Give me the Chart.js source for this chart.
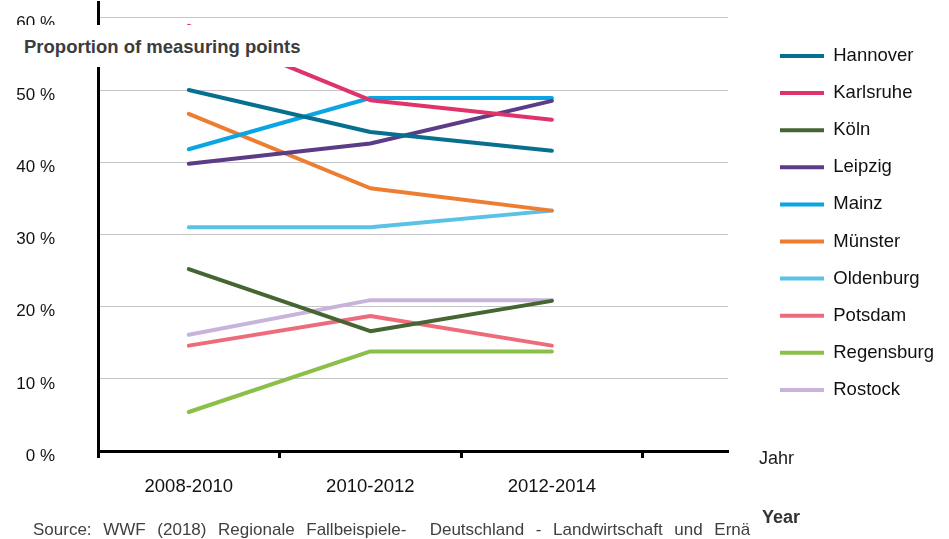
<!DOCTYPE html>
<html>
<head>
<meta charset="utf-8">
<script src="https://cdn.jsdelivr.net/npm/chart.js@4/dist/chart.umd.min.js"></script>
<style>
  html, body { margin: 0; padding: 0; background: #fff; }
  #wrap { position: relative; width: 949px; height: 539px; overflow: hidden; font-family: "Liberation Sans", Arial, sans-serif; }
  canvas { position: absolute; left: 0; top: 0; }
  .txt { position: absolute; white-space: pre; line-height: 1; }
  #ytitle { position: absolute; left: 0; top: 25px; width: 320px; height: 42px; background: #fff; }
  #ytitle span { position: absolute; left: 24px; top: 12.7px; font-weight: bold; font-size: 18.5px; line-height: 1; color: #3c3c3c; white-space: pre; }
</style>
</head>
<body>
<div id="wrap">
  <canvas id="c" width="949" height="539"></canvas>
  <div id="ytitle"><span>Proportion of measuring points</span></div>
  <div class="txt" style="left:759px; top:449px; font-size:18px; color:#1a1a1a;">Jahr</div>
  <div class="txt" style="left:762px; top:508px; font-size:18px; font-weight:bold; color:#333;">Year</div>
  <div class="txt" style="left:33px; top:521px; font-size:17px; color:#404040; word-spacing:6.9px;">Source: WWF (2018) Regionale Fallbeispiele-  Deutschland - Landwirtschaft und Ernä</div>
</div>
<script>
// ---- data ----
const categories = ['2008-2010', '2010-2012', '2012-2014'];
const cities = ['Hannover', 'Karlsruhe', 'Köln', 'Leipzig', 'Mainz', 'Münster', 'Oldenburg', 'Potsdam', 'Regensburg', 'Rostock'];
const hannover   = [50.0, 44.2, 41.6];
const karlsruhe  = [58.9, 48.6, 45.9];
const koeln      = [25.2, 16.6, 20.8];
const leipzig    = [39.8, 42.6, 48.5];
const mainz      = [41.8, 48.9, 48.9];
const muenster   = [46.7, 36.4, 33.3];
const oldenburg  = [31.0, 31.0, 33.3];
const potsdam    = [14.6, 18.7, 14.6];
const regensburg = [5.4, 13.8, 13.8];
const rostock    = [16.1, 20.9, 20.9];
const yTickValues = [0, 10, 20, 30, 40, 50, 60];

const seriesValues = [hannover, karlsruhe, koeln, leipzig, mainz, muenster, oldenburg, potsdam, regensburg, rostock];
const colors = ['#07708F', '#E0336A', '#456532', '#5C3C86', '#0AA5E2', '#ED7D31', '#5BC2E7', '#EE6B7B', '#8CBF4A', '#C8B4DA'];

const FONT = '"Liberation Sans", Arial, sans-serif';

const datasets = cities.map((name, i) => ({
  label: name,
  data: seriesValues[i].map((v, j) => ({ x: j + 0.5, y: v })),
  borderColor: colors[i],
  backgroundColor: colors[i],
  borderWidth: 4,
  borderCapStyle: 'round',
  borderJoinStyle: 'round',
  pointRadius: 0,
  pointHoverRadius: 0,
  tension: 0,
  fill: false
}));

new Chart(document.getElementById('c'), {
  type: 'line',
  data: { datasets },
  options: {
    responsive: false,
    animation: false,
    devicePixelRatio: 1,
    layout: { padding: { top: 2, left: 0, right: 12.6, bottom: 0 } },
    plugins: {
      tooltip: { enabled: false },
      legend: {
        position: 'right',
        align: 'start',
        maxWidth: 175,
        title: { display: true, text: ' ', font: { size: 10 }, padding: { top: 7, bottom: 7.15 } },
        labels: {
          usePointStyle: true,
          pointStyle: 'line',
          pointStyleWidth: 44,
          padding: 18.6,
          color: '#111',
          font: { family: FONT, size: 18.5 }
        }
      }
    },
    scales: {
      x: {
        type: 'linear',
        position: 'bottom',
        min: 0,
        max: 3.47,
        afterBuildTicks: (s) => { s.ticks = [0, 0.5, 1, 1.5, 2, 2.5, 3].map(v => ({ value: v })); },
        afterFit: (s) => { s.height = 88; s.paddingLeft = 0; s.paddingRight = 0; },
        ticks: {
          autoSkip: false,
          maxRotation: 0,
          padding: 18,
          color: '#111',
          font: { family: FONT, size: 18.5 },
          callback: (v) => Number.isInteger(v) ? '' : categories[Math.floor(v)]
        },
        grid: {
          drawOnChartArea: false,
          drawTicks: true,
          tickLength: 7,
          tickWidth: 3,
          color: (ctx) => (ctx.tick && Number.isInteger(ctx.tick.value)) ? '#000' : 'rgba(0,0,0,0)',
          tickColor: (ctx) => (ctx.tick && Number.isInteger(ctx.tick.value)) ? '#000' : 'rgba(0,0,0,0)'
        },
        border: { display: true, color: '#000', width: 3 }
      },
      y: {
        type: 'linear',
        position: 'left',
        min: 0,
        max: 62.2,
        afterBuildTicks: (s) => { s.ticks = yTickValues.map(v => ({ value: v })); },
        afterFit: (s) => { s.width = 98; s.paddingTop = 0; s.paddingBottom = 0; },
        ticks: {
          padding: 43,
          labelOffset: 5,
          color: '#111',
          font: { family: FONT, size: 17 },
          callback: (v) => v + ' %'
        },
        grid: { drawTicks: false, color: '#c6c6c6', lineWidth: 1 },
        border: { display: true, color: '#000', width: 3 }
      },
      spacer: {
        type: 'linear',
        position: 'right',
        display: true,
        ticks: { display: false },
        grid: { display: false, drawTicks: false },
        border: { display: false },
        afterFit: (s) => { s.width = 33.4; s.paddingTop = 0; s.paddingBottom = 0; }
      }
    }
  }
});
</script>
</body>
</html>
